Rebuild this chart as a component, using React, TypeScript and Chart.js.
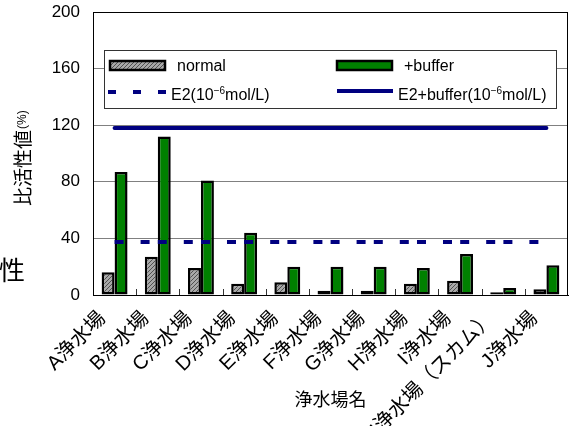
import React, { useEffect, useRef } from "react";
import { Chart, registerables } from "chart.js";

Chart.register(...registerables);

const categories = [
  "A浄水場",
  "B浄水場",
  "C浄水場",
  "D浄水場",
  "E浄水場",
  "F浄水場",
  "G浄水場",
  "H浄水場",
  "I浄水場",
  "I浄水場（スカム）",
  "J浄水場",
];
const normalValues = [16, 27, 19, 8, 9, 3, 3, 8, 10, 2, 4];
const bufferValues = [87, 112, 81, 44, 20, 20, 20, 19, 29, 5, 21];
const e2Values = [37.5, 37.5, 37.5, 37.5, 37.5, 37.5, 37.5, 37.5, 37.5, 37.5, 37.5];
const e2BufferValues = [118, 118, 118, 118, 118, 118, 118, 118, 118, 118, 118];
const yTickStep = 40;
const yMin = 0;
const yMax = 200;

const LATIN = '"Liberation Sans", "Noto Sans CJK JP", sans-serif';
const CJK = '"Noto Sans CJK JP", "Liberation Sans", sans-serif';

function makePattern(): CanvasPattern | string {
  const c = document.createElement("canvas");
  c.width = 4;
  c.height = 4;
  const g = c.getContext("2d");
  if (!g) return "#999";
  g.fillStyle = "#a8a8a8";
  g.fillRect(0, 0, 4, 4);
  g.fillStyle = "#505050";
  for (let i = 0; i < 4; i++) {
    g.fillRect(i, 3 - i, 1, 1);
  }
  const p = g.createPattern(c, "repeat");
  return p || "#999";
}

function drawRich(
  ctx: CanvasRenderingContext2D,
  parts: { t: string; size: number; dy: number }[],
  x: number,
  y: number
) {
  let cx = x;
  for (const p of parts) {
    ctx.font = `${p.size}px ${LATIN}`;
    ctx.fillText(p.t, cx, y + p.dy);
    cx += ctx.measureText(p.t).width;
  }
}

export default function App() {
  const ref = useRef<HTMLCanvasElement | null>(null);

  useEffect(() => {
    const canvas = ref.current;
    if (!canvas) return;
    const pattern = makePattern();

    const extras = {
      id: "extras",
      afterDraw(chart: any) {
        const ctx: CanvasRenderingContext2D = chart.ctx;
        const a = chart.chartArea;
        const xs = chart.scales.x;
        ctx.save();
        // frame top & right
        ctx.strokeStyle = "#000";
        ctx.lineWidth = 1;
        ctx.beginPath();
        ctx.moveTo(a.left, Math.round(a.top) + 0.5);
        ctx.lineTo(a.right, Math.round(a.top) + 0.5);
        ctx.moveTo(Math.round(a.right) - 0.5, a.top);
        ctx.lineTo(Math.round(a.right) - 0.5, a.bottom);
        ctx.stroke();
        // category tick marks (pointing up)
        ctx.strokeStyle = "#333";
        ctx.beginPath();
        for (let i = 0; i < categories.length - 1; i++) {
          const x = Math.round((xs.getPixelForValue(i) + xs.getPixelForValue(i + 1)) / 2) + 0.5;
          ctx.moveTo(x, a.bottom);
          ctx.lineTo(x, a.bottom - 6);
        }
        ctx.stroke();

        // legend box
        ctx.fillStyle = "#fff";
        ctx.fillRect(104, 50, 452, 58);
        ctx.strokeStyle = "#333";
        ctx.lineWidth = 1;
        ctx.strokeRect(104.5, 50.5, 452, 58);

        // swatches
        ctx.lineWidth = 2.5;
        ctx.strokeStyle = "#000";
        ctx.fillStyle = pattern as any;
        ctx.fillRect(110, 61, 55, 9);
        ctx.strokeRect(110, 61, 55, 9);
        ctx.fillStyle = "#008000";
        ctx.fillRect(337, 61, 55, 9);
        ctx.strokeRect(337, 61, 55, 9);

        ctx.strokeStyle = "#000080";
        ctx.lineWidth = 4;
        ctx.setLineDash([8, 17]);
        ctx.beginPath();
        ctx.moveTo(108, 92);
        ctx.lineTo(168, 92);
        ctx.stroke();
        ctx.setLineDash([]);
        ctx.beginPath();
        ctx.moveTo(337, 91);
        ctx.lineTo(393, 91);
        ctx.stroke();

        ctx.fillStyle = "#000";
        ctx.textBaseline = "middle";
        ctx.textAlign = "left";
        ctx.font = `16px ${LATIN}`;
        ctx.fillText("normal", 177, 67);
        ctx.fillText("+buffer", 404, 67);
        drawRich(
          ctx,
          [
            { t: "E2(10", size: 16, dy: 0 },
            { t: "−6", size: 10, dy: -5 },
            { t: "mol/L)", size: 16, dy: 0 },
          ],
          171,
          96
        );
        drawRich(
          ctx,
          [
            { t: "E2+buffer(10", size: 16, dy: 0 },
            { t: "−6", size: 10, dy: -5 },
            { t: "mol/L)", size: 16, dy: 0 },
          ],
          398,
          96
        );

        // y title
        ctx.save();
        ctx.translate(23, 206);
        ctx.rotate(-Math.PI / 2);
        ctx.textBaseline = "middle";
        ctx.font = `19px ${CJK}`;
        ctx.fillText("比活性値", 0, 0);
        const w = ctx.measureText("比活性値").width;
        ctx.font = `12px ${LATIN}`;
        ctx.fillText("(%)", w + 1, 0);
        ctx.restore();

        // stray character at left
        ctx.font = `26px ${CJK}`;
        ctx.textBaseline = "middle";
        ctx.fillText("性", -1, 270);
        ctx.restore();
      },
    };

    const chart = new Chart(canvas, {
      type: "bar",
      data: {
        labels: categories,
        datasets: [
          {
            type: "line",
            label: "E2(10−6mol/L)",
            data: e2Values,
            borderColor: "#000080",
            backgroundColor: "#000080",
            borderWidth: 4,
            borderDash: [9, 17, 9, 8.2],
            borderCapStyle: "butt",
            pointRadius: 0,
            fill: false,
            order: 0,
          } as any,
          {
            type: "line",
            label: "E2+buffer(10−6mol/L)",
            data: e2BufferValues,
            borderColor: "#000080",
            backgroundColor: "#000080",
            borderWidth: 4,
            borderCapStyle: "round",
            pointRadius: 0,
            fill: false,
            order: 0,
          } as any,
          {
            type: "bar",
            label: "normal",
            data: normalValues,
            backgroundColor: pattern as any,
            borderColor: "#000",
            borderWidth: 2.5,
            borderSkipped: false,
            categoryPercentage: 0.6,
            barPercentage: 1,
            order: 1,
          } as any,
          {
            type: "bar",
            label: "+buffer",
            data: bufferValues,
            backgroundColor: "#008000",
            borderColor: "#000",
            borderWidth: 2.5,
            borderSkipped: false,
            categoryPercentage: 0.6,
            barPercentage: 1,
            order: 1,
          } as any,
        ],
      },
      options: {
        responsive: false,
        animation: false,
        devicePixelRatio: 1,
        layout: { padding: { top: 12, right: 8, left: 0, bottom: 0 } },
        plugins: {
          legend: { display: false },
          tooltip: { enabled: false },
        },
        scales: {
          x: {
            grid: { display: false, drawTicks: false },
            border: { display: true, color: "#000", width: 1 },
            ticks: {
              color: "#000",
              font: { size: 20, family: LATIN },
              maxRotation: 45,
              minRotation: 45,
              autoSkip: false,
              padding: 12,
              labelOffset: -12,
            },
            title: {
              display: true,
              text: "浄水場名",
              color: "#000",
              font: { size: 18, family: CJK },
              padding: { top: 0, bottom: 16 },
            },
            afterFit(s: any) {
              s.height = 131;
            },
          },
          y: {
            min: yMin,
            max: yMax,
            ticks: {
              stepSize: yTickStep,
              color: "#000",
              font: { size: 17, family: LATIN },
              padding: 0,
            },
            grid: {
              color: "#808080",
              lineWidth: 1,
              drawTicks: true,
              tickLength: 13,
              tickColor: "rgba(0,0,0,0)",
            },
            border: { display: true, color: "#000", width: 1 },
            afterFit(s: any) {
              s.width = 93;
            },
          },
        },
      },
      plugins: [extras],
    } as any);

    return () => chart.destroy();
  }, []);

  return (
    <div style={{ position: "absolute", left: 0, top: 0, width: 576, height: 426, background: "#fff" }}>
      <canvas ref={ref} width={576} height={426} style={{ display: "block" }} />
    </div>
  );
}
